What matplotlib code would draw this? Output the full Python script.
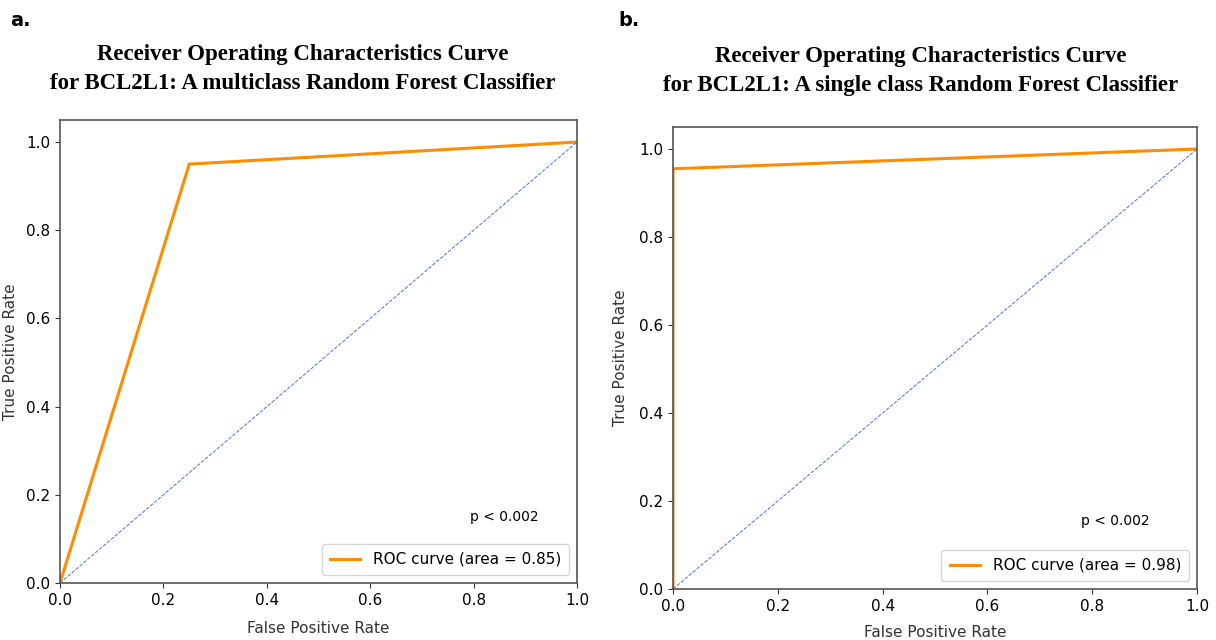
import numpy as np
import matplotlib
matplotlib.use("Agg")
from matplotlib import pyplot as plt

# ROC points
fpr_multi = [0.0, 0.25, 1.0]
tpr_multi = [0.0, 0.95, 1.0]
auc_multi = 0.85

fpr_single = [0.0, 0.0, 1.0]
tpr_single = [0.0, 0.955, 1.0]
auc_single = 0.98

ticks = [0.0, 0.2, 0.4, 0.6, 0.8, 1.0]
p_text = "p < 0.002"

titles = ["Receiver Operating Characteristics Curve\nfor BCL2L1: A multiclass Random Forest Classifier",
          "Receiver Operating Characteristics Curve\nfor BCL2L1: A single class Random Forest Classifier"]
panel_labels = ["a.", "b."]

W, H = 1216, 640
fig = plt.figure(figsize=(W / 100, H / 100), dpi=100)

def px_axes(x0, y0, x1, y1):
    return fig.add_axes([x0 / W, 1 - y1 / H, (x1 - x0) / W, (y1 - y0) / H])

def roc_panel(ax, fpr, tpr, auc, p_xy, ylab_x, xlab_y):
    ax.plot(fpr, tpr, color='darkorange', lw=2.2, label='ROC curve (area = %0.2f)' % auc)
    ax.plot([0, 1], [0, 1], color='#4a72d0', lw=0.7, linestyle='--')
    ax.set_xlim(0.0, 1.0)
    ax.set_ylim(0.0, 1.05)
    ax.set_xticks(ticks)
    ax.set_yticks(ticks)
    ax.tick_params(labelsize=11, color='#333333')
    for s in ax.spines.values():
        s.set_color('#555555')
        s.set_linewidth(1.2)
    ax.set_xlabel('False Positive Rate', fontsize=11, color='#333333')
    ax.set_ylabel('True Positive Rate', fontsize=11, color='#333333')
    ax.yaxis.set_label_coords(ylab_x, 0.5)
    ax.xaxis.set_label_coords(0.5, xlab_y)
    ax.text(p_xy[0], p_xy[1], p_text, fontsize=10, ha='center', va='center')
    ax.legend(loc='lower right', fontsize=11, borderpad=0.55)

ax1 = px_axes(60, 120, 577, 583)
roc_panel(ax1, fpr_multi, tpr_multi, auc_multi, (0.86, 0.15), -0.081, -0.082)

ax2 = px_axes(673, 127, 1197, 589)
roc_panel(ax2, fpr_single, tpr_single, auc_single, (0.845, 0.155), -0.086, -0.078)

fig.text(303 / W, 1 - 69 / H, titles[0], ha='center', va='center', fontsize=16.5,
         fontweight='bold', family='Liberation Serif', linespacing=1.55)
fig.text(921 / W, 1 - 71 / H, titles[1], ha='center', va='center', fontsize=16.5,
         fontweight='bold', family='Liberation Serif', linespacing=1.55)
fig.text(10 / W, 1 - 20 / H, panel_labels[0], ha='left', va='center', fontsize=14, fontweight='bold')
fig.text(618 / W, 1 - 20 / H, panel_labels[1], ha='left', va='center', fontsize=14, fontweight='bold')

fig.savefig('out.png', dpi=100)
